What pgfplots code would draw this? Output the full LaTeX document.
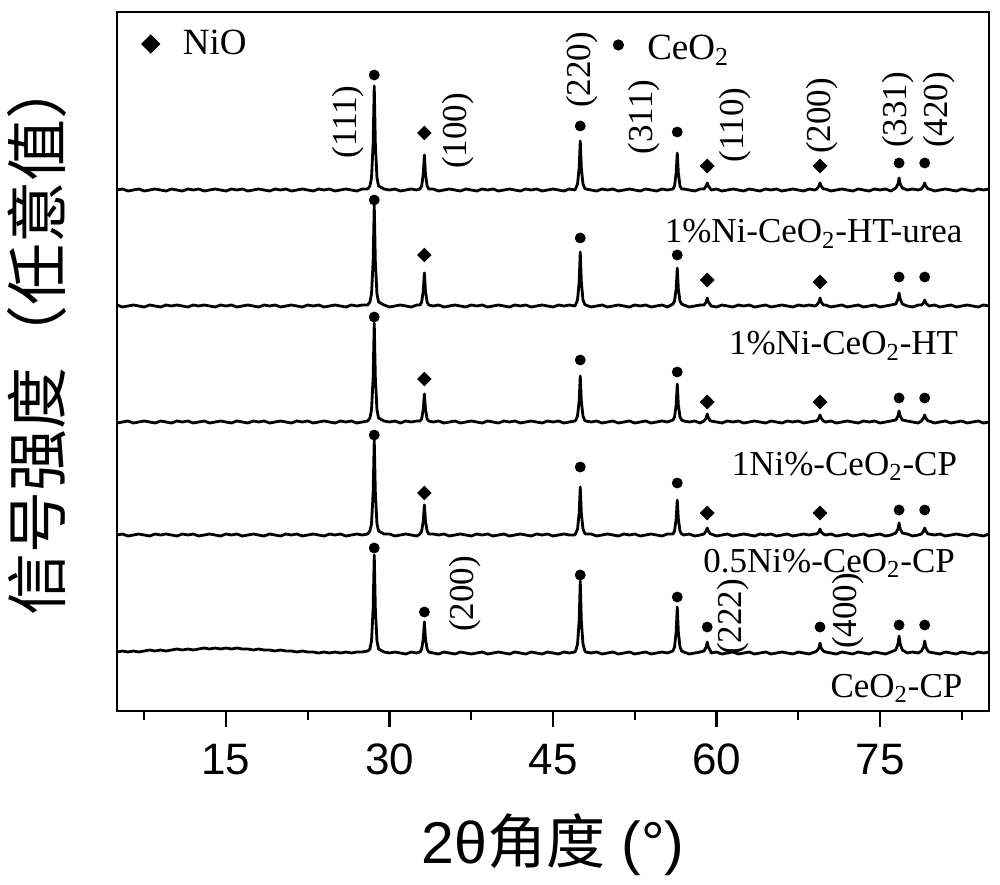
\documentclass[border=0pt]{standalone}
\usepackage{fontspec}
\setmainfont{Liberation Serif}
\newfontfamily\arial{Liberation Sans}
\newfontfamily\cjk{Noto Sans CJK SC}
\usepackage{pgfplots}
\pgfplotsset{compat=1.18}
\usepackage{pgfplotstable}

% relative intensities (arbitrary units) of the five patterns
% a: 1%Ni-CeO2-HT-urea, b: 1%Ni-CeO2-HT, c: 1Ni%-CeO2-CP, d: 0.5Ni%-CeO2-CP, e: CeO2-CP
\pgfplotstableread{
x a b c d e
5.0 0 1 -1 0 1
5.5 1 -1 0 1 2
6.0 -1 0 1 -1 1
6.5 0 1 -1 0 2
7.0 1 0 0 1 1
7.5 -1 -1 1 0 2
8.0 0 1 0 -1 3
8.5 1 0 -1 1 2
9.0 0 -1 1 0 3
9.5 -1 1 0 1 2
10.0 1 0 -1 0 3
10.5 0 1 1 -1 4
11.0 -1 0 0 1 3
11.5 1 -1 1 0 4
12.0 0 1 -1 1 3
12.5 1 0 0 -1 4
13.0 -1 1 1 0 5
13.5 0 0 -1 1 4
14.0 1 -1 0 0 5
14.5 0 1 1 -1 4
15.0 -1 0 0 1 5
15.5 1 1 -1 0 4
16.0 0 -1 1 1 5
16.5 1 0 0 -1 4
17.0 -1 1 -1 0 4
17.5 0 0 1 1 3
18.0 1 -1 0 0 4
18.5 0 1 1 -1 3
19.0 -1 0 -1 1 3
19.5 1 1 0 0 2
20.0 0 -1 1 -1 3
20.5 1 0 0 1 2
21.0 -1 1 -1 0 2
21.5 0 0 1 1 1
22.0 1 -1 0 -1 2
22.5 0 1 1 0 1
23.0 -1 0 -1 1 1
23.5 1 1 0 0 0
24.0 0 -1 1 -1 1
24.5 1 0 0 1 0
25.0 -1 1 -1 0 1
25.5 0 0 1 1 0
26.0 1 -1 0 -1 1
26.5 0 1 1 0 0
27.0 -1 0 -1 1 1
27.5 1 1 0 0 1
28.0 1 1 1 1 2
28.2 4 4 4 4 4
28.35 12 12 12 11 12
28.5 47 45 45 43 45
28.6 104 101 99 95 98
28.7 47 45 45 43 45
28.85 12 12 12 11 12
29.0 4 4 4 4 4
29.5 1 1 1 1 1
30.0 0 -1 0 1 0
30.5 1 0 1 -1 1
31.0 -1 1 -1 0 0
31.5 0 0 1 1 -1
32.0 1 -1 0 0 1
32.5 0 1 1 -1 0
32.8 1 1 1 1 1
32.95 4 4 3 4 4
33.1 16 15 13 14 14
33.2 35 33 28 30 31
33.3 16 15 13 14 14
33.45 4 4 3 4 4
33.6 1 1 1 1 1
34.0 1 0 0 1 0
34.5 -1 1 1 0 -1
35.0 0 -1 -1 1 1
35.5 1 0 0 -1 0
36.0 0 1 1 0 -1
36.5 -1 0 -1 1 1
37.0 1 -1 0 0 0
37.5 0 1 1 -1 -1
38.0 -1 0 0 1 0
38.5 1 1 -1 0 1
39.0 0 -1 1 1 -1
39.5 1 0 0 -1 0
40.0 -1 1 -1 0 1
40.5 0 0 1 1 0
41.0 1 -1 0 -1 -1
41.5 0 1 1 0 1
42.0 -1 0 -1 1 0
42.5 1 1 0 0 -1
43.0 0 -1 1 -1 1
43.5 1 0 0 1 0
44.0 -1 1 -1 0 -1
44.5 0 0 1 1 1
45.0 1 -1 0 -1 0
45.5 0 1 1 0 -1
46.0 -1 0 -1 1 1
46.5 1 1 0 0 0
47.0 0 0 1 0 1
47.1 2 2 2 2 3
47.25 6 6 6 6 9
47.4 22 24 21 22 32
47.5 49 54 46 48 72
47.6 22 24 21 22 32
47.75 6 6 6 6 9
47.9 2 2 2 2 3
48.0 1 1 1 1 1
48.5 0 -1 0 1 0
49.0 -1 0 1 -1 1
49.5 1 1 -1 0 -1
50.0 0 -1 0 1 0
50.5 1 0 1 0 1
51.0 -1 1 -1 -1 -1
51.5 0 0 0 1 0
52.0 1 -1 1 0 1
52.5 0 1 -1 1 -1
53.0 -1 0 0 -1 0
53.5 1 1 1 0 1
54.0 0 -1 -1 1 -1
54.5 -1 0 0 0 0
55.0 1 1 1 -1 1
55.5 0 -1 0 1 0
56.0 1 2 2 1 2
56.15 4 5 5 4 6
56.3 17 17 17 16 21
56.4 37 38 38 35 46
56.5 17 17 17 16 21
56.65 4 5 5 4 6
56.8 1 2 2 1 2
57.0 1 1 1 0 1
57.5 0 -1 0 1 -1
58.0 -1 0 1 -1 0
58.5 1 1 -1 0 1
58.85 1 1 1 1 2
59.05 4 4 4 4 6
59.15 7 8 8 7 11
59.25 4 4 4 4 6
59.45 1 1 1 1 2
59.5 0 0 1 1 0
60.0 1 -1 0 -1 1
60.5 -1 1 -1 0 -1
61.0 0 0 1 1 0
61.5 1 -1 0 -1 1
62.0 0 1 1 0 -1
62.5 -1 0 -1 1 0
63.0 1 1 0 0 1
63.5 0 -1 1 -1 -1
64.0 -1 0 0 1 0
64.5 1 1 -1 0 1
65.0 0 -1 1 1 -1
65.5 1 0 0 -1 0
66.0 -1 1 -1 0 1
66.5 0 0 1 1 0
67.0 1 -1 0 -1 -1
67.5 0 1 1 0 1
68.0 -1 0 -1 1 0
68.5 1 1 0 0 -1
69.0 0 0 1 1 1
69.2 1 1 1 1 2
69.4 4 4 4 3 5
69.5 7 8 7 6 10
69.6 4 4 4 3 5
69.8 1 1 1 1 2
70.0 1 1 0 0 1
70.5 -1 -1 1 1 0
71.0 0 0 -1 -1 -1
71.5 1 1 0 0 1
72.0 0 -1 1 1 0
72.5 -1 0 0 -1 -1
73.0 1 1 -1 0 1
73.5 0 -1 1 1 0
74.0 -1 0 0 -1 -1
74.5 1 1 1 0 1
75.0 0 -1 -1 1 0
75.5 1 0 0 -1 -1
76.0 -1 1 1 0 1
76.45 2 2 2 2 3
76.65 6 7 6 6 9
76.75 12 13 11 12 17
76.85 6 7 6 6 9
77.05 2 2 2 2 3
77.5 0 0 1 1 0
78.0 1 -1 0 -1 1
78.5 0 1 -1 0 0
78.8 1 1 1 1 2
79.0 4 3 4 4 6
79.1 7 6 7 7 12
79.2 4 3 4 4 6
79.4 1 1 1 1 2
79.5 1 0 1 1 1
80.0 -1 1 -1 0 0
80.5 0 -1 0 1 -1
81.0 1 0 1 -1 1
81.5 0 1 -1 0 0
82.0 -1 -1 0 1 -1
82.5 1 0 1 0 1
83.0 0 1 -1 -1 0
83.5 -1 0 0 1 -1
84.0 1 -1 1 0 1
84.5 0 1 -1 -1 0
85.0 1 0 0 1 1
}\xrd

% CeO2 peak markers (in offset units)
\pgfplotstableread{
x y
28.6 636
47.5 585
56.4 579
76.75 548
79.1 548
28.6 511
47.5 473
56.4 456
76.75 434
79.1 434
28.6 394
47.5 351
56.4 339
76.75 313
79.1 313
28.6 276
47.5 244
56.4 228
76.75 201
79.1 201
28.6 163
33.2 99
47.5 136
56.4 114
59.15 84
69.5 84
76.75 86
79.1 86
}\ceo

% NiO peak markers
\pgfplotstableread{
x y
33.2 578
59.15 545
69.5 545
33.2 456
59.15 431
69.5 429
33.2 332
59.15 309
69.5 309
33.2 218
59.15 198
69.5 198
}\nio

\begin{document}
\begin{tikzpicture}
\path[use as bounding box] (0,0) rectangle (500pt,442pt);
\begin{axis}[
  at={(58.5pt,86.5pt)}, anchor=south west,
  scale only axis, width=436pt, height=349.5pt,
  xmin=5, xmax=85, ymin=0, ymax=699,
  clip=false,
  axis line style={line width=1.2pt},
  every tick/.style={line width=1.2pt, black},
  ytick=\empty,
  xtick={15,30,45,60,75},
  xticklabels={15,30,45,60,75},
  minor xtick={7.5,22.5,37.5,52.5,67.5,82.5},
  xtick pos=left, tick align=outside,
  major tick length=8pt, minor tick length=4.5pt,
  xticklabel style={font=\arial\fontsize{22}{22}\selectfont, yshift=-5pt},
  xlabel={{\arial 2θ}{\cjk 角度}{\arial\ (°)}},
  xlabel style={font=\fontsize{29.5}{29.5}\selectfont, at={(axis description cs:0.5,0)}, anchor=center, yshift=-67pt},
  ylabel={信号强度（任意值）},
  ylabel style={font=\cjk\fontsize{31}{31}\selectfont, at={(axis description cs:0,0.5)}, anchor=center, yshift=40pt, xshift=12.5pt},
]
\addplot[black, line width=1.4pt, line join=round] table[x=x, y expr=\thisrow{a}+521]{\xrd};
\addplot[black, line width=1.4pt, line join=round] table[x=x, y expr=\thisrow{b}+405]{\xrd};
\addplot[black, line width=1.4pt, line join=round] table[x=x, y expr=\thisrow{c}+289]{\xrd};
\addplot[black, line width=1.4pt, line join=round] table[x=x, y expr=\thisrow{d}+176]{\xrd};
\addplot[black, line width=1.4pt, line join=round] table[x=x, y expr=\thisrow{e}+58]{\xrd};

\addplot[only marks, mark=*, mark size=2.5pt, black] table[x=x, y=y]{\ceo};
\addplot[only marks, mark=square*, mark size=2.4pt, mark options={rotate=45}, black] table[x=x, y=y]{\nio};

% legend symbols
\addplot[only marks, mark=square*, mark size=3.2pt, mark options={rotate=45}, black] coordinates {(8.1,667)};
\addplot[only marks, mark=*, mark size=2.6pt, black] coordinates {(51.0,666)};
\node[anchor=base west, font=\fontsize{18.5}{18.5}\selectfont] at (axis cs:10.4,656) {NiO};
\node[anchor=base west, font=\fontsize{18.5}{18.5}\selectfont] at (axis cs:53.0,651) {CeO\textsubscript{2}};

% sample names
\begin{scope}[every node/.style={anchor=base east, font=\fontsize{17.5}{17.5}\selectfont, inner sep=0pt}]
\node at (axis cs:82.6,468) {1\%Ni-CeO\textsubscript{2}-HT-urea};
\node at (axis cs:82.2,356) {1\%Ni-CeO\textsubscript{2}-HT};
\node at (axis cs:82.1,236) {1Ni\%-CeO\textsubscript{2}-CP};
\node at (axis cs:81.9,139) {0.5Ni\%-CeO\textsubscript{2}-CP};
\node at (axis cs:82.6,14) {CeO\textsubscript{2}-CP};
\end{scope}

% Miller indices
\begin{scope}[every node/.style={rotate=90, anchor=center, font=\fontsize{17.5}{17.5}\selectfont, inner sep=0pt}]
\node at (axis cs:26.2,589) {(111)};
\node at (axis cs:36.3,580) {(100)};
\node at (axis cs:47.7,641) {(220)};
\node at (axis cs:53.4,594) {(311)};
\node at (axis cs:61.7,586) {(110)};
\node at (axis cs:69.7,595) {(200)};
\node at (axis cs:76.65,601) {(331)};
\node at (axis cs:80.4,601) {(420)};
\node at (axis cs:36.9,117) {(200)};
\node at (axis cs:61.5,94) {(222)};
\node at (axis cs:72.1,100) {(400)};
\end{scope}
\end{axis}
\end{tikzpicture}
\end{document}
